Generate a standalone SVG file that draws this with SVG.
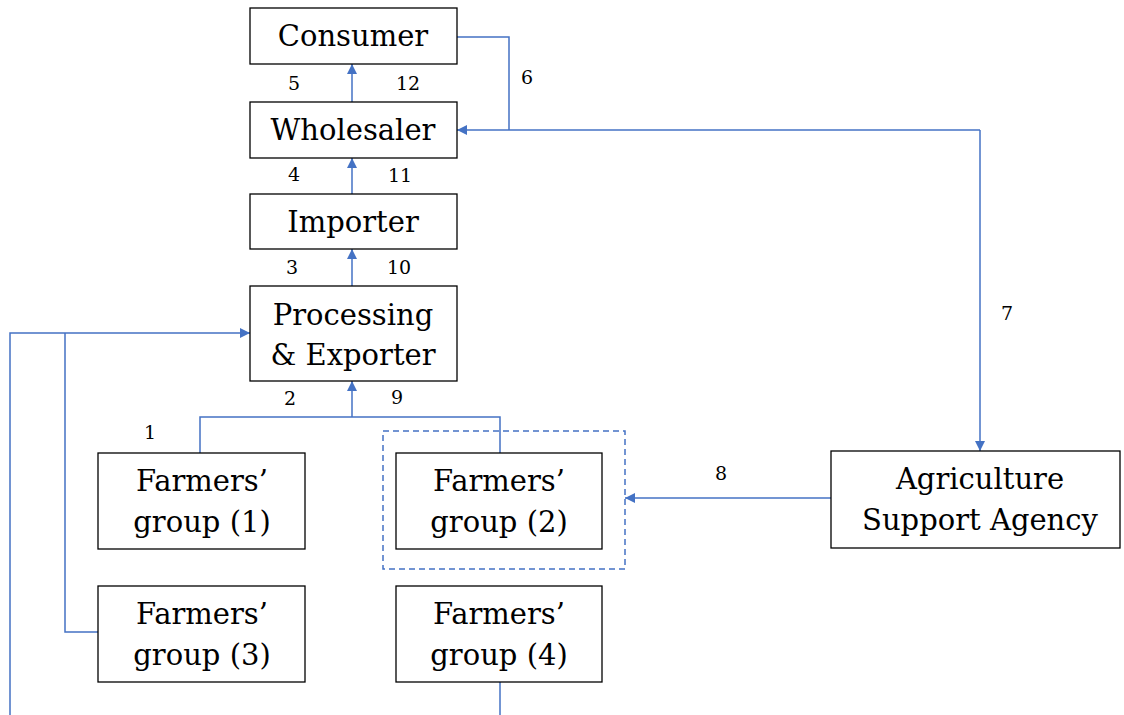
<svg xmlns="http://www.w3.org/2000/svg" width="1124" height="715" viewBox="0 0 1124 715">
  <style>
    .box { fill: #ffffff; stroke: #000000; stroke-width: 1.3; }
    .lbl { font-family: "DejaVu Serif", "Liberation Serif", serif; font-size: 29px; fill: #000000; text-anchor: middle; }
    .num { font-family: "DejaVu Serif", "Liberation Serif", serif; font-size: 19px; fill: #000000; text-anchor: middle; }
    .link { fill: none; stroke: #4472C4; stroke-width: 1.5; }
    .arrow { fill: none; stroke: #4472C4; stroke-width: 1.5; marker-end: url(#head); }
    .dash { fill: none; stroke: #4472C4; stroke-width: 1.5; stroke-dasharray: 6 4; }
  </style>
  <defs>
    <marker id="head" viewBox="0 0 10 10" refX="10" refY="5" markerWidth="10" markerHeight="10" markerUnits="userSpaceOnUse" orient="auto">
      <path d="M0,0 L10,5 L0,10 z" fill="#4472C4"/>
    </marker>
  </defs>
  <rect width="1124" height="715" fill="#ffffff"/>

  <!-- connectors -->
  <g id="connectors">
    <path class="arrow" d="M352,102 V64"/>
    <path class="arrow" d="M352,194 V158"/>
    <path class="arrow" d="M352,286 V249"/>
    <path class="arrow" d="M352,417 V381"/>
    <path class="link" d="M200,453 V417 H500 V453"/>
    <path class="link" d="M457,37 H509 V130"/>
    <path class="arrow" d="M980,130 H457"/>
    <path class="arrow" d="M980,130 V451"/>
    <path class="arrow" d="M831,498 H625"/>
    <path class="arrow" d="M10,715 V333 H250"/>
    <path class="link" d="M98,632 H65 V333"/>
    <path class="link" d="M500,682 V715"/>
    <rect class="dash" x="383" y="431" width="242" height="138"/>
  </g>

  <!-- numbered labels -->
  <g id="numbers">
    <text class="num" x="294" y="90">5</text>
    <text class="num" x="408" y="90">12</text>
    <text class="num" x="527" y="84">6</text>
    <text class="num" x="294" y="181">4</text>
    <text class="num" x="400" y="182">11</text>
    <text class="num" x="292" y="274">3</text>
    <text class="num" x="399" y="274">10</text>
    <text class="num" x="1007" y="320">7</text>
    <text class="num" x="290" y="405">2</text>
    <text class="num" x="397" y="404">9</text>
    <text class="num" x="150" y="439">1</text>
    <text class="num" x="721" y="480">8</text>
  </g>

  <g id="consumer">
    <rect class="box" x="250" y="8" width="207" height="56"/>
    <text class="lbl" x="353" y="46">Consumer</text>
  </g>
  <g id="wholesaler">
    <rect class="box" x="250" y="102" width="207" height="56"/>
    <text class="lbl" x="353" y="140">Wholesaler</text>
  </g>
  <g id="importer">
    <rect class="box" x="250" y="194" width="207" height="55"/>
    <text class="lbl" x="353" y="232">Importer</text>
  </g>
  <g id="processing-exporter">
    <rect class="box" x="250" y="286" width="207" height="95"/>
    <text class="lbl" x="353" y="325">Processing</text>
    <text class="lbl" x="353" y="365">&amp; Exporter</text>
  </g>
  <g id="farmers-group-1">
    <rect class="box" x="98" y="453" width="207" height="96"/>
    <text class="lbl" x="202" y="491">Farmers’</text>
    <text class="lbl" x="202" y="532">group (1)</text>
  </g>
  <g id="farmers-group-2">
    <rect class="box" x="396" y="453" width="206" height="96"/>
    <text class="lbl" x="499" y="491">Farmers’</text>
    <text class="lbl" x="499" y="532">group (2)</text>
  </g>
  <g id="farmers-group-3">
    <rect class="box" x="98" y="586" width="207" height="96"/>
    <text class="lbl" x="202" y="624">Farmers’</text>
    <text class="lbl" x="202" y="665">group (3)</text>
  </g>
  <g id="farmers-group-4">
    <rect class="box" x="396" y="586" width="206" height="96"/>
    <text class="lbl" x="499" y="624">Farmers’</text>
    <text class="lbl" x="499" y="665">group (4)</text>
  </g>
  <g id="agriculture-support-agency">
    <rect class="box" x="831" y="451" width="289" height="97"/>
    <text class="lbl" x="980" y="489">Agriculture</text>
    <text class="lbl" x="980" y="530">Support Agency</text>
  </g>
</svg>
